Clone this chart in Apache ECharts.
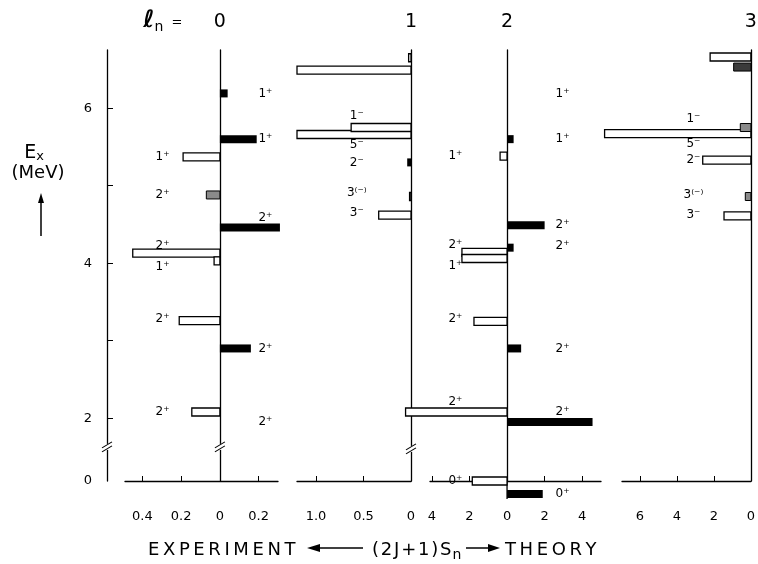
<!DOCTYPE html>
<html>
<head>
<meta charset="utf-8">
<script src="https://cdn.jsdelivr.net/npm/echarts@6.0.0/dist/echarts.min.js"></script>
<style>
  html, body { margin: 0; padding: 0; background: #fff; }
  #chart { width: 758px; height: 564px; }
</style>
</head>
<body>
<div id="chart"></div>
<script>
// l_n values of the four panels
const lnValues = ['0', '1', '2', '3'];

// l_n = 0 : experiment (left) and theory (right), Ex in MeV, (2J+1)Sn
const exp0E = [5.37, 4.88, 4.13, 4.03, 3.26, 2.08];
const exp0S = [0.19, 0.07, 0.45, 0.03, 0.21, 0.145];
const exp0J = ['1⁺', '2⁺', '2⁺', '1⁺', '2⁺', '2⁺'];
const exp0Kind = ['open', 'hatch', 'open', 'open', 'open', 'open'];
const th0E = [6.19, 5.60, 4.46, 2.90, 1.95];
const th0S = [0.04, 0.19, 0.31, 0.16, 0];
const th0J = ['1⁺', '1⁺', '2⁺', '2⁺', '2⁺'];

// l_n = 1 : experiment only
const exp1E = [6.65, 6.49, 5.66, 5.75, 5.30, 4.86, 4.62];
const exp1S = [0.025, 1.2, 1.2, 0.63, 0.04, 0.015, 0.34];
const exp1J = ['', '', '5⁻', '1⁻', '2⁻', '3⁽⁻⁾', '3⁻'];
const exp1Kind = ['open', 'open', 'open', 'open', 'solid', 'open', 'open'];

// l_n = 2
const exp2E = [5.38, 4.14, 4.06, 3.25, 2.08, 0];
const exp2S = [0.37, 2.4, 2.4, 1.76, 5.4, 1.85];
const exp2J = ['1⁺', '2⁺', '1⁺', '2⁺', '2⁺', '0⁺'];
const exp2Kind = ['open', 'open', 'open', 'open', 'open', 'open'];
const th2E = [6.19, 5.60, 4.49, 4.20, 2.90, 1.95, 0];
const th2S = [0, 0.35, 2.0, 0.35, 0.75, 4.55, 1.9];
const th2J = ['1⁺', '1⁺', '2⁺', '2⁺', '2⁺', '2⁺', '0⁺'];

// l_n = 3 : experiment only
const exp3E = [6.66, 6.53, 5.67, 5.75, 5.33, 4.86, 4.61];
const exp3S = [2.2, 0.93, 7.9, 0.57, 2.6, 0.3, 1.45];
const exp3J = ['', '', '5⁻', '1⁻', '2⁻', '3⁽⁻⁾', '3⁻'];
const exp3Kind = ['open', 'dark', 'open', 'hatch', 'open', 'hatch', 'open'];

// label nudges (px) where two levels sit close together
const exp0Dy = [0, 0, -7, 6, -2, 0];
const th0Dy = [0, 0, -10, 0, 0];
const exp1Dy = [0, 0, 10, -12, 0, -4, -2];
const exp2Dy = [0, -7, 7, -2, -10, 0];
const th2Dy = [0, 0, 0, -2, 0, -10, 0];
const exp3Dy = [0, 0, 10, -9, 0, -2, -1];

// axis ticks
const yTicks = [2, 3, 4, 5, 6];
const yLabels = [0, 2, 4, 6];
const xTick0 = [-0.4, -0.2, 0, 0.2];
const xTickText0 = ['0.4', '0.2', '0', '0.2'];
const xTick1 = [-1, -0.5, 0];
const xTickText1 = ['1.0', '0.5', '0'];
const xTick2 = [-4, -2, 0, 2, 4];
const xTickText2 = ['4', '2', '0', '2', '4'];
const xTick3 = [-6, -4, -2, 0];
const xTickText3 = ['6', '4', '2', '0'];

const FONT = '"DejaVu Sans", "Liberation Sans", sans-serif';
const GS = 1.19;          // where 0 MeV sits below the axis break
const Y_MAX = 6.75;
const BAR_H = 8;
const DROP = 13;          // theory ground state hangs under the baseline

function disp(e) { return e < 1 ? GS + e : e; }

const panels = [
  { left: 125, right: 758 - 278, min: -0.49, max: 0.30, ticks: xTick0, text: xTickText0,
    exp: [exp0E, exp0S, exp0J, exp0Kind, exp0Dy], th: [th0E, th0S, th0J, th0Dy], expCol: -0.296, thCol: 0.235 },
  { left: 297, right: 758 - 411, min: -1.2, max: 0, ticks: xTick1, text: xTickText1,
    exp: [exp1E, exp1S, exp1J, exp1Kind, exp1Dy], expCol: -0.57 },
  { left: 430, right: 758 - 601, min: -4.1, max: 5.0, ticks: xTick2, text: xTickText2,
    exp: [exp2E, exp2S, exp2J, exp2Kind, exp2Dy], th: [th2E, th2S, th2J, th2Dy], expCol: -2.75, thCol: 2.95 },
  { left: 622, right: 758 - 756, min: -6.96, max: 0, ticks: xTick3, text: xTickText3,
    exp: [exp3E, exp3S, exp3J, exp3Kind, exp3Dy], expCol: -3.1 },
];

function barStyle(kind) {
  if (kind === 'solid') return { fill: '#000' };
  if (kind === 'hatch') return { fill: '#8a8a8a', stroke: '#000', lineWidth: 1 };
  if (kind === 'dark') return { fill: '#3a3a3a', stroke: '#000', lineWidth: 1 };
  return { fill: '#fff', stroke: '#000', lineWidth: 1.3 };
}

function barSeries(g, E, S, kind, sign) {
  return {
    type: 'custom', xAxisIndex: g, yAxisIndex: g + 1, clip: false, z: 3,
    data: E.map((e, i) => [sign * S[i], disp(e), i]),
    encode: { x: 0, y: 1 },
    renderItem: (params, api) => {
      const v = api.value(0), y = api.value(1), i = api.value(2);
      if (!v) return null;
      const a = api.coord([0, y]), b = api.coord([v, y]);
      const drop = sign > 0 && y < 1.5 ? DROP : 0;
      return {
        type: 'rect',
        shape: { x: Math.min(a[0], b[0]), y: a[1] - BAR_H / 2 + drop, width: Math.abs(b[0] - a[0]), height: BAR_H },
        style: barStyle(kind ? kind[i] : 'solid'),
      };
    },
  };
}

function labelSeries(g, E, J, dy, col, sign) {
  return {
    type: 'custom', xAxisIndex: g, yAxisIndex: g + 1, clip: false, z: 4,
    data: E.map((e, i) => [col, disp(e), i]),
    encode: { x: 0, y: 1 },
    renderItem: (params, api) => {
      const i = api.value(2), y = api.value(1);
      if (!J[i]) return null;
      const p = api.coord([api.value(0), y]);
      const drop = sign > 0 && y < 1.5 ? DROP : 0;
      return {
        type: 'text', x: p[0], y: p[1] + dy[i] + drop,
        style: { text: J[i], fill: '#000', fontSize: 12, fontFamily: FONT, align: 'center', verticalAlign: 'middle' },
      };
    },
  };
}

const grid = panels.map((p) => ({ left: p.left, right: p.right, top: 50, bottom: 83 }));

const xAxis = panels.map((p, g) => ({
  type: 'value', gridIndex: g, min: p.min, max: p.max,
  axisLine: { show: true, lineStyle: { color: '#000', width: 1.3 } },
  axisTick: { show: true, inside: true, length: 5, lineStyle: { color: '#000' },
    customValues: p.ticks.filter((t) => t !== 0) },
  axisLabel: {
    customValues: p.ticks, margin: 29, color: '#000', fontSize: 13, fontFamily: FONT,
    formatter: (v) => p.text[p.ticks.findIndex((t) => Math.abs(t - v) < 1e-9)],
  },
  splitLine: { show: false },
}));

const yAxis = [{
  type: 'value', gridIndex: 0, min: GS, max: Y_MAX, position: 'left', offset: 18,
  axisLine: { show: true, onZero: false, lineStyle: { color: '#000', width: 1.3 } },
  axisTick: { show: true, inside: true, length: 6, lineStyle: { color: '#000' }, customValues: yTicks },
  axisLabel: {
    customValues: yLabels.map(disp), margin: 15, color: '#000', fontSize: 13, fontFamily: FONT,
    formatter: (v) => (v < 1.5 ? '0' : String(v)),
  },
  splitLine: { show: false },
}].concat(panels.map((p, g) => ({
  type: 'value', gridIndex: g, min: GS, max: Y_MAX, position: 'right',
  axisLine: { show: true, onZero: true, lineStyle: { color: '#000', width: 1.3 } },
  axisTick: { show: false }, axisLabel: { show: false }, splitLine: { show: false },
})));

const series = [];
panels.forEach((p, g) => {
  const [eE, eS, eJ, eK, eDy] = p.exp;
  series.push(barSeries(g, eE, eS, eK, -1));
  series.push(labelSeries(g, eE, eJ, eDy, p.expCol, -1));
  if (p.th) {
    const [tE, tS, tJ, tDy] = p.th;
    series.push(barSeries(g, tE, tS, null, 1));
    series.push(labelSeries(g, tE, tJ, tDy, p.thCol, 1));
  }
});

const chart = echarts.init(document.getElementById('chart'));
chart.setOption({ animation: false, backgroundColor: '#fff', grid, xAxis, yAxis, series });

// decorations placed from the axes' own scales
function px(g, x, y) { return chart.convertToPixel({ xAxisIndex: g, yAxisIndex: g + 1 }, [x, y]); }

function breakMark(x, y) {
  return [
    { type: 'rect', shape: { x: x - 3, y: y - 3, width: 6, height: 6 }, style: { fill: '#fff' }, z: 10 },
    { type: 'line', shape: { x1: x - 5, y1: y + 1, x2: x + 5, y2: y - 5 }, style: { stroke: '#000', lineWidth: 1.1 }, z: 11 },
    { type: 'line', shape: { x1: x - 5, y1: y + 5, x2: x + 5, y2: y - 1 }, style: { stroke: '#000', lineWidth: 1.1 }, z: 11 },
  ];
}

const gfx = [];
const yBreak = px(0, 0, 1.63)[1];
const exAxisX = px(0, panels[0].min, GS)[0] - 18;
gfx.push(...breakMark(exAxisX, yBreak));
gfx.push(...breakMark(px(0, 0, 1.63)[0], yBreak));
gfx.push(...breakMark(px(1, 0, 1.63)[0], yBreak + 2));

// panel 2 zero line runs on below the baseline
const z2 = px(2, 0, GS);
gfx.push({ type: 'line', shape: { x1: z2[0], y1: z2[1], x2: z2[0], y2: z2[1] + 18 }, style: { stroke: '#000', lineWidth: 1.3 }, z: 2 });

// l_n header
gfx.push({ type: 'text', x: 149, y: 21, style: { text: 'ℓ', fontSize: 24, fontWeight: 'bold', fontFamily: FONT, fill: '#000', align: 'center', verticalAlign: 'middle' } });
gfx.push({ type: 'text', x: 159, y: 27, style: { text: 'n', fontSize: 14, fontFamily: FONT, fill: '#000', align: 'center', verticalAlign: 'middle' } });
gfx.push({ type: 'text', x: 177, y: 23, style: { text: '=', fontSize: 13, fontFamily: FONT, fill: '#000', align: 'center', verticalAlign: 'middle' } });
lnValues.forEach((t, g) => {
  const x = Math.min(px(g, 0, GS)[0], 752);
  gfx.push({ type: 'text', x, y: 22, style: { text: t, fontSize: 19, fontFamily: FONT, fill: '#000', align: 'center', verticalAlign: 'middle' } });
});

// Ex (MeV) with arrow
gfx.push({ type: 'text', x: 34, y: 153, style: { text: '{e|E}{s|x}', rich: { e: { fontSize: 19, fontFamily: FONT }, s: { fontSize: 13, fontFamily: FONT, verticalAlign: 'bottom', padding: [8, 0, 0, 0] } }, fill: '#000', align: 'center', verticalAlign: 'middle' } });
gfx.push({ type: 'text', x: 38, y: 173, style: { text: '(MeV)', fontSize: 18, fontFamily: FONT, fill: '#000', align: 'center', verticalAlign: 'middle' } });
gfx.push({ type: 'line', shape: { x1: 41, y1: 236, x2: 41, y2: 200 }, style: { stroke: '#000', lineWidth: 1.5 } });
gfx.push({ type: 'polygon', shape: { points: [[41, 193], [38, 203], [44, 203]] }, style: { fill: '#000' } });

// bottom caption
const thin = '\u2009';
const hair = '\u200A';
const spaced = (s, sp) => s.split('').join(sp);
gfx.push({ type: 'text', x: 148, y: 550, style: { text: spaced('EXPERIMENT', thin), fontSize: 18, fontFamily: FONT, fill: '#000', align: 'left', verticalAlign: 'middle' } });
gfx.push({ type: 'line', shape: { x1: 318, y1: 548, x2: 363, y2: 548 }, style: { stroke: '#000', lineWidth: 1.5 } });
gfx.push({ type: 'polygon', shape: { points: [[307, 548], [320, 544], [320, 552]] }, style: { fill: '#000' } });
gfx.push({ type: 'text', x: 372, y: 550, style: { text: '{a|' + spaced('(2J+1)S', hair) + '}{b|n}', rich: { a: { fontSize: 18, fontFamily: FONT }, b: { fontSize: 14, fontFamily: FONT, padding: [10, 0, 0, 1] } }, fill: '#000', align: 'left', verticalAlign: 'middle' } });
gfx.push({ type: 'line', shape: { x1: 466, y1: 548, x2: 490, y2: 548 }, style: { stroke: '#000', lineWidth: 1.5 } });
gfx.push({ type: 'polygon', shape: { points: [[500, 548], [488, 544], [488, 552]] }, style: { fill: '#000' } });
gfx.push({ type: 'text', x: 505, y: 550, style: { text: spaced('THEORY', thin), fontSize: 18, fontFamily: FONT, fill: '#000', align: 'left', verticalAlign: 'middle' } });

chart.setOption({ graphic: gfx });
</script>
</body>
</html>
